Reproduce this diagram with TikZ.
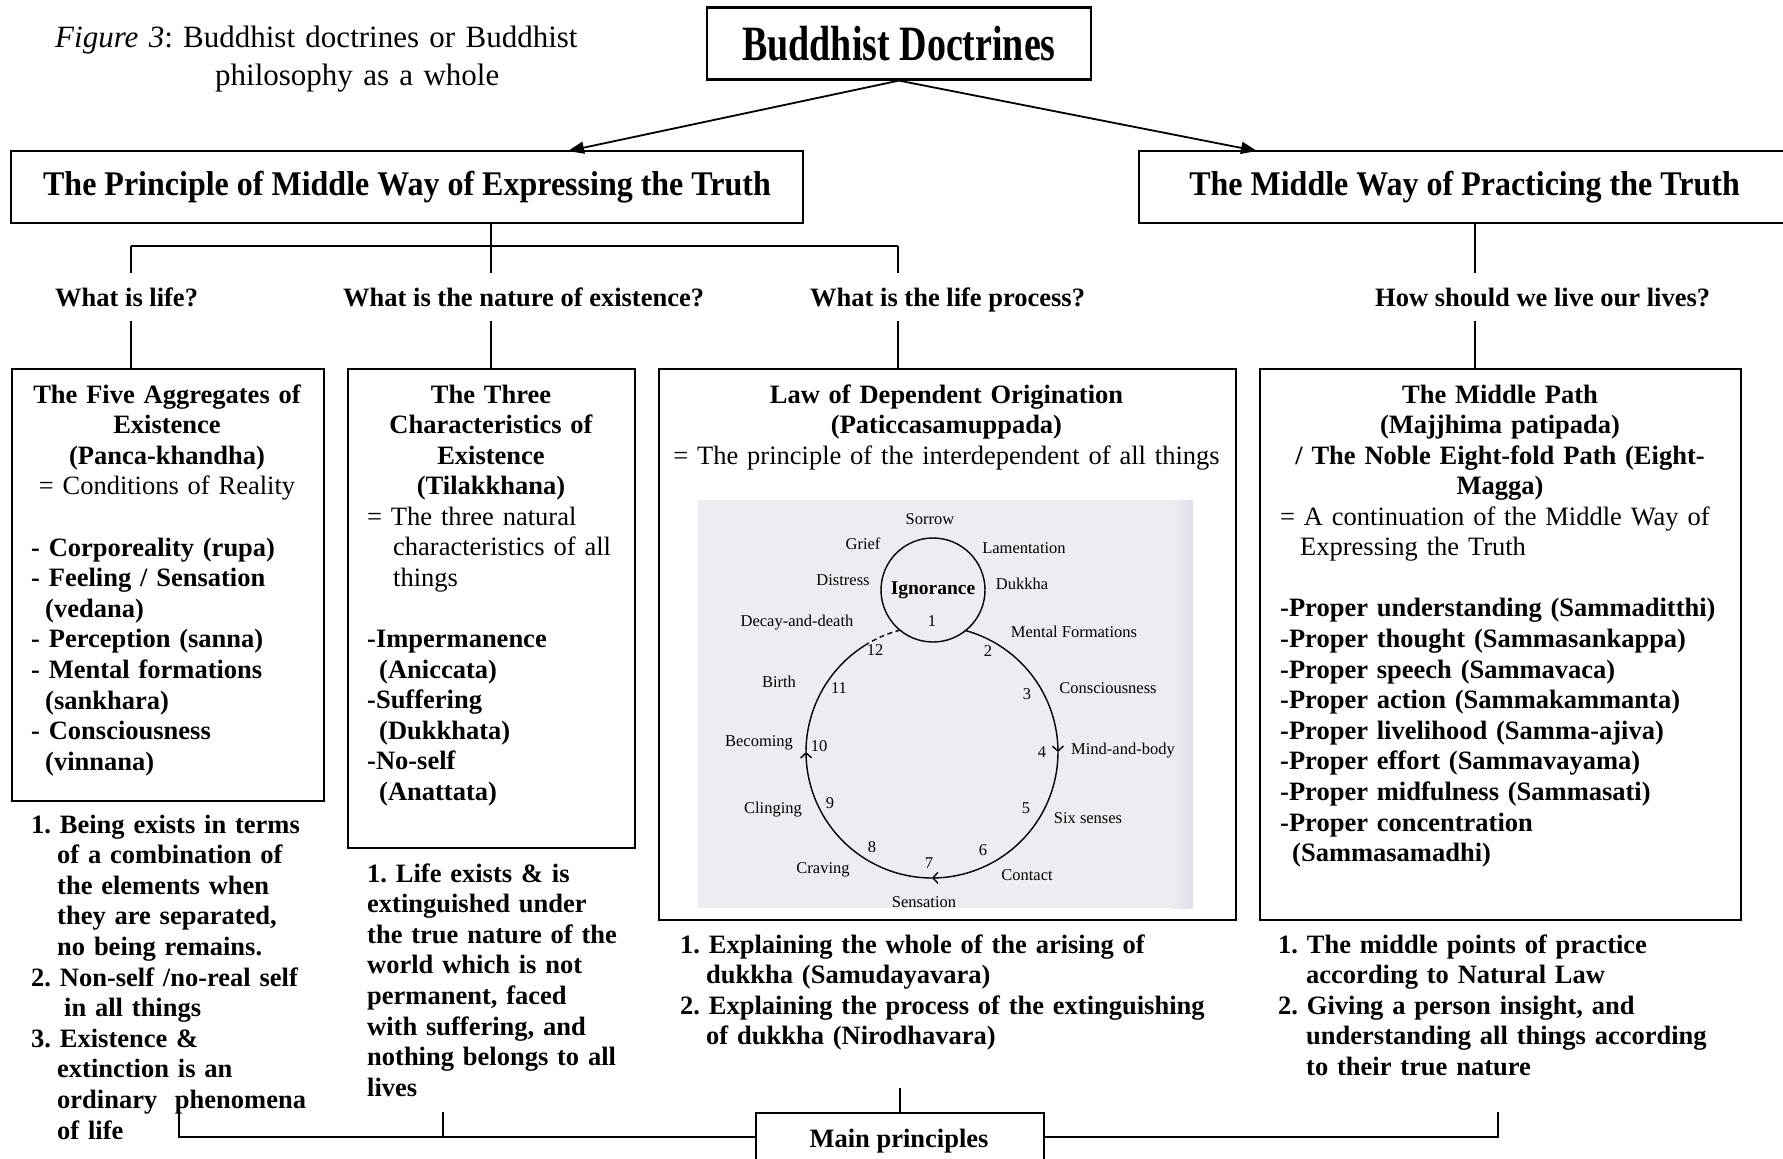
\documentclass[tikz,border=0pt]{standalone}
\usepackage{graphicx}
\usepackage{fontspec}
\setmainfont{Liberation Serif}
\usetikzlibrary{arrows.meta}
\definecolor{scanbg}{RGB}{237,236,242}
\definecolor{scanedge}{RGB}{224,223,232}
\newcommand\bodysize{\fontsize{26.5}{30.6}\selectfont}
\newcommand\labsize{\fontsize{16.5}{18}\selectfont}
\frenchspacing
\begin{document}
\begin{tikzpicture}[x=1pt, y=-1pt,
  frame/.style={draw, line width=2pt, inner sep=0pt},
  conn/.style={line width=1.6pt},
  arr/.style={line width=1.8pt, -{Triangle[length=16pt,width=12pt]}},
  txt/.style={inner sep=0pt, font=\bodysize, text width=#1, align=left, anchor=base west},
  txt/.default=600pt,
  ctr/.style={inner sep=0pt, font=\bodysize\bfseries, text width=#1, align=center, anchor=base},
  question/.style={inner sep=0pt, font=\bodysize\bfseries, anchor=base west, text height=33pt, text depth=15pt},
  lab/.style={inner sep=0pt, font=\labsize},
  circ/.style={line width=1.4pt},
  chev/.style={-{Straight Barb[length=5pt,width=11pt]}}
]
\useasboundingbox (0,0) rectangle (1783,1159);
\fill[white] (0,0) rectangle (1783,1159);

% caption
\node[inner sep=0pt, font=\fontsize{31}{38}\selectfont, text width=600pt, align=left, anchor=base west]
  (caption) at (55,47) {\textit{Figure 3}: Buddhist doctrines or Buddhist\\\hspace*{160pt}philosophy as a whole};

% top of the hierarchy
\node[frame, line width=2.2pt, minimum width=384pt, minimum height=72pt, font=\fontsize{38}{40}\selectfont\bfseries]
  (title) at (899,43.5) {\scalebox{1}[1.3]{Buddhist Doctrines}};
\node[frame, minimum width=792pt, minimum height=72pt, font=\fontsize{32}{34}\selectfont\bfseries]
  (lb) at (407,187) {\scalebox{1}[1.08]{The Principle of Middle Way of Expressing the Truth}};
\node[frame, minimum width=651pt, minimum height=72pt, font=\fontsize{32}{34}\selectfont\bfseries]
  (rb) at (1464.5,187) {\scalebox{1}[1.08]{The Middle Way of Practicing the Truth}};

\coordinate (lbin) at (568,151);
\coordinate (rbin) at (1257,151);
\draw[arr] (title.south) -- (lbin);
\draw[arr] (title.south) -- (rbin);

% questions
\node[question] (q1) at (55,306) {What is life?};
\node[question] (q2) at (343,306) {What is the nature of existence?};
\node[question] (q3) at (810,306) {What is the life process?};
\node[question] (q4) at (1375,306) {How should we live our lives?};

% content boxes
\node[frame, anchor=north west, minimum width=312pt, minimum height=432pt] (b1) at (11,368) {};
\node[frame, anchor=north west, minimum width=287pt, minimum height=479pt] (b2) at (347,368) {};
\node[frame, anchor=north west, minimum width=577pt, minimum height=551pt] (b3) at (658,368) {};
\node[frame, anchor=north west, minimum width=481pt, minimum height=551pt] (b4) at (1259,368) {};

% branching lines
\coordinate (h1) at (131,246);
\coordinate (h2) at (491,246);
\coordinate (h3) at (898,246);
\coordinate (h4) at (1475,246);
\draw[conn] (lb.south -| h2) -- (h2);
\draw[conn] (h1) -- (h3);
\draw[conn] (h1) -- (q1.north -| h1);
\draw[conn] (h2) -- (q2.north -| h2);
\draw[conn] (h3) -- (q3.north -| h3);
\draw[conn] (rb.south -| h4) -- (q4.north -| h4);
\draw[conn] (q1.south -| h1) -- (b1.north -| h1);
\draw[conn] (q2.south -| h2) -- (b2.north -| h2);
\draw[conn] (q3.south -| h3) -- (b3.north -| h3);
\draw[conn] (q4.south -| h4) -- (b4.north -| h4);

% box 1
\node[ctr=310pt] (b1head) at (167,403) {The Five Aggregates of\\Existence\\(Panca-khandha)\\\mdseries = Conditions of Reality};
\node[txt, font=\bodysize\bfseries] (b1list) at (31,556) {- Corporeality (rupa)\\- Feeling / Sensation\\\hspace*{14pt}(vedana)\\- Perception (sanna)\\- Mental formations\\\hspace*{14pt}(sankhara)\\- Consciousness\\\hspace*{14pt}(vinnana)};

% box 2
\node[ctr=280pt] (b2head) at (491,403) {The Three\\Characteristics of\\Existence\\(Tilakkhana)};
\node[txt] (b2list) at (367,525) {= The three natural\\\hspace*{26pt}characteristics of all\\\hspace*{26pt}things\\[30.6pt]\bfseries -Impermanence\\\hspace*{12pt}(Aniccata)\\-Suffering\\\hspace*{12pt}(Dukkhata)\\-No-self\\\hspace*{12pt}(Anattata)};

% box 3
\node[ctr=560pt] (b3head) at (946.5,403) {Law of Dependent Origination\\(Paticcasamuppada)\\\mdseries = The principle of the interdependent of all things};

% dependent origination wheel
\fill[scanbg] (698,500) rectangle (1193,908);
\shade[left color=scanbg, right color=scanedge] (1172,500) rectangle (1193,908);
\node[circle, draw, circ, minimum size=104pt, inner sep=0pt, font=\fontsize{19.5}{21}\selectfont\bfseries]
  (ign) at (933,590) {Ignorance};
\draw[circ, chev] plot[domain=-74.9:0, samples=40] ({932+126*cos(\x)},{752+126*sin(\x)});
\draw[circ, chev] plot[domain=0:90, samples=40] ({932+126*cos(\x)},{752+126*sin(\x)});
\draw[circ, chev] plot[domain=90:180, samples=40] ({932+126*cos(\x)},{752+126*sin(\x)});
\draw[circ] plot[domain=180:237.7, samples=30] ({932+126*cos(\x)},{752+126*sin(\x)});
\draw[circ, dash pattern=on 5pt off 3.5pt] plot[domain=237.7:255, samples=12] ({932+126*cos(\x)},{752+126*sin(\x)});

\node[lab] (sorrow) at (930,519) {Sorrow};
\node[lab] (grief) at (863,544) {Grief};
\node[lab] (lament) at (1024,548) {Lamentation};
\node[lab] (distress) at (843,580) {Distress};
\node[lab] (dukkha) at (1022,584) {Dukkha};
\node[lab] (decay) at (797,623) {Decay-and-death};
\node[lab] (mental) at (1074,632) {Mental Formations};
\node[lab] (birth) at (779,682) {Birth};
\node[lab] (consc) at (1108,688) {Consciousness};
\node[lab] (becoming) at (759,743) {Becoming};
\node[lab] (mindbody) at (1123,751) {Mind-and-body};
\node[lab] (clinging) at (773,810) {Clinging};
\node[lab] (sixsenses) at (1088,818) {Six senses};
\node[lab] (craving) at (823,870) {Craving};
\node[lab] (contact) at (1027,875) {Contact};
\node[lab] (sensation) at (924,902) {Sensation};

\node[lab] (n1) at (932,621) {1};
\node[lab] (n2) at (988,651) {2};
\node[lab] (n3) at (1027,694) {3};
\node[lab] (n4) at (1042,752) {4};
\node[lab] (n5) at (1026,808) {5};
\node[lab] (n6) at (983,850) {6};
\node[lab] (n7) at (929,863) {7};
\node[lab] (n8) at (872,847) {8};
\node[lab] (n9) at (830,803) {9};
\node[lab] (n10) at (819,746) {10};
\node[lab] (n11) at (839,688) {11};
\node[lab] (n12) at (875,650) {12};

% box 4
\node[ctr=470pt] (b4head) at (1500,403) {The Middle Path\\(Majjhima patipada)\\/ The Noble Eight-fold Path (Eight-\\Magga)};
\node[txt] (b4list) at (1280,525) {= A continuation of the Middle Way of\\\hspace*{20pt}Expressing the Truth\\[30.6pt]\bfseries -Proper understanding (Sammaditthi)\\-Proper thought (Sammasankappa)\\-Proper speech (Sammavaca)\\-Proper action (Sammakammanta)\\-Proper livelihood (Samma-ajiva)\\-Proper effort (Sammavayama)\\-Proper midfulness (Sammasati)\\-Proper concentration\\\hspace*{12pt}(Sammasamadhi)};

% principles below each box
\node[txt, font=\bodysize\bfseries] (p1) at (31,833) {1. Being exists in terms\\\hspace*{26pt}of a combination of\\\hspace*{26pt}the elements when\\\hspace*{26pt}they are separated,\\\hspace*{26pt}no being remains.\\2. Non-self /no-real self\\\hspace*{33pt}in all things\\3. Existence \&\\\hspace*{26pt}extinction is an\\\hspace*{26pt}ordinary\ \ phenomena\\\hspace*{26pt}of life};
\node[txt, font=\bodysize\bfseries] (p2) at (367,882) {1. Life exists \& is\\extinguished under\\the true nature of the\\world which is not\\permanent, faced\\with suffering, and\\nothing belongs to all\\lives};
\node[txt, font=\bodysize\bfseries] (p3) at (680,953) {1. Explaining the whole of the arising of\\\hspace*{26pt}dukkha (Samudayavara)\\2. Explaining the process of the extinguishing\\\hspace*{26pt}of dukkha (Nirodhavara)};
\node[txt, font=\bodysize\bfseries] (p4) at (1278,953) {1. The middle points of practice\\\hspace*{28pt}according to Natural Law\\2. Giving a person insight, and\\\hspace*{28pt}understanding all things according\\\hspace*{28pt}to their true nature};

% main principles
\node[frame, anchor=north west, minimum width=288pt, minimum height=80pt] (mp) at (755,1112) {};
\node[inner sep=0pt, font=\bodysize\bfseries, anchor=base] (mptext) at (899,1147) {Main principles};
\coordinate (bl) at (0,1137);
\coordinate (bL) at (179,1112);
\coordinate (bM) at (443,1112);
\coordinate (bR) at (1498,1112);
\draw[conn] (mp.north) -- ++(0,-24);
\draw[conn] (mp.west |- bl) -- (bL |- bl) -- (bL);
\draw[conn] (bM) -- (bM |- bl);
\draw[conn] (mp.east |- bl) -- (bR |- bl) -- (bR);
\end{tikzpicture}
\end{document}
